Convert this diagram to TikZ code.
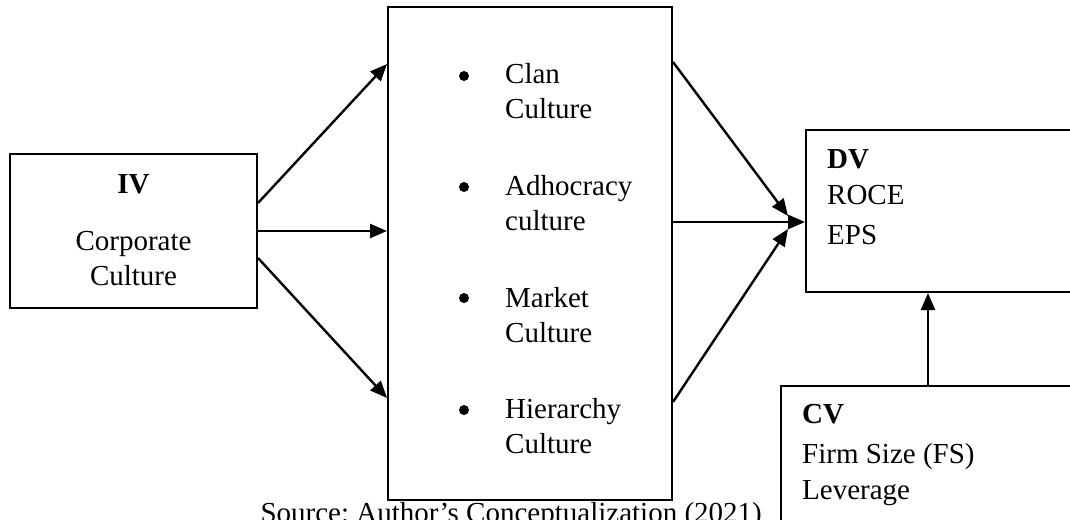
\documentclass[tikz,border=0pt]{standalone}
\usepackage{fontspec}
\setmainfont{Liberation Serif}
\usetikzlibrary{arrows.meta}
\frenchspacing
\begin{document}
\begin{tikzpicture}[x=1pt,y=-1pt,
  box/.style={draw, line width=2pt, inner sep=0pt, rectangle},
  txt/.style={anchor=base west, inner sep=0pt, font=\fontsize{29}{35}\selectfont},
  ctxt/.style={anchor=base, inner sep=0pt, font=\fontsize{29}{35}\selectfont},
  arr/.style={line width=2.4pt, -{Triangle[length=17pt,width=14pt]}},
  bul/.style={circle, fill, inner sep=0pt, minimum size=10pt}]
\useasboundingbox (0,0) rectangle (1070,519);
\clip (0,0) rectangle (1070,519);

% boxes
\node[box, minimum width=247pt, minimum height=154pt] (IV) at (133.5,231) {};
\node[box, minimum width=284pt, minimum height=493pt] (mid) at (530,253.5) {};
\node[box, minimum width=294pt, minimum height=162pt] (DV) at (953,211) {};
\node[box, minimum width=319pt, minimum height=214pt] (CV) at (940.5,493) {};

% IV text
\node[ctxt, font=\fontsize{29}{35}\selectfont\bfseries] (ivh) at (133.5,193) {IV};
\node[ctxt] (iv1) at (133.5,250) {Corporate};
\node[ctxt] (iv2) at (133.5,285) {Culture};

% middle list
\node[bul] (b1) at (464,76) {};
\node[txt] (m1a) at (505,83) {Clan};
\node[txt] (m1b) at (505,118) {Culture};
\node[bul] (b2) at (464,187) {};
\node[txt] (m2a) at (505,195) {Adhocracy};
\node[txt] (m2b) at (505,230) {culture};
\node[bul] (b3) at (464,298) {};
\node[txt] (m3a) at (505,307) {Market};
\node[txt] (m3b) at (505,342) {Culture};
\node[bul] (b4) at (464,410) {};
\node[txt] (m4a) at (505,418) {Hierarchy};
\node[txt] (m4b) at (505,453) {Culture};

% DV text
\node[txt, font=\fontsize{29}{35}\selectfont\bfseries] (dvh) at (827,168) {DV};
\node[txt] (dv1) at (827,204) {ROCE};
\node[txt] (dv2) at (827,244) {EPS};

% CV text
\node[txt, font=\fontsize{29}{35}\selectfont\bfseries] (cvh) at (802,423) {CV};
\node[txt] (cv1) at (802,463) {Firm Size (FS)};
\node[txt] (cv2) at (802,499) {Leverage};

% source line
\node[anchor=base east, inner sep=0pt, font=\fontsize{29}{35}\selectfont] (src) at (762,522) {Source: Author’s Conceptualization (2021)};

% arrows IV -> mid
\draw[arr] (IV.east |- 0,203) -- (mid.west |- 0,64);
\draw[arr] (IV.east |- 0,231) -- (mid.west |- 0,231);
\draw[arr] (IV.east |- 0,258) -- (mid.west |- 0,398);

% arrows mid -> DV
\coordinate (dvin1) at (788,216);
\coordinate (dvin2) at (788,229);
\draw[arr] (mid.east |- 0,62) -- (dvin1);
\draw[arr] (mid.east |- 0,222) -- (DV.west |- 0,222);
\draw[arr] (mid.east |- 0,402) -- (dvin2);

% CV -> DV
\draw[arr] (CV.north -| 928,0) -- (DV.south -| 928,0);
\end{tikzpicture}
\end{document}
